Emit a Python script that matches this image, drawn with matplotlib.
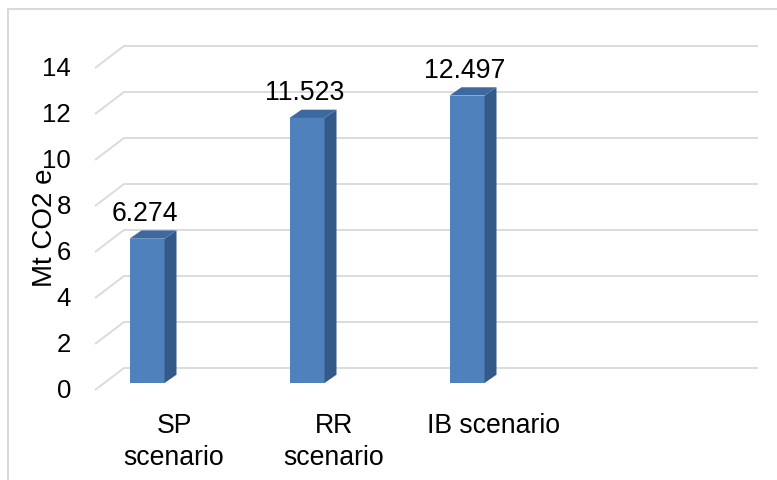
import matplotlib
matplotlib.use("Agg")
import matplotlib.pyplot as plt
from matplotlib.patches import Polygon
from matplotlib.lines import Line2D

plt.rcParams['font.family'] = ['Liberation Sans', 'DejaVu Sans']

# ---- data ----
categories = ["SP\nscenario", "RR\nscenario", "IB scenario"]
values = [6.274, 11.523, 12.497]
value_labels = ["6.274", "11.523", "12.497"]
yticks = [0, 2, 4, 6, 8, 10, 12, 14]
ylabel = "Mt CO2 e"

# ---- style / layout ----
W, H = 777, 481
FS = 18.5
FS2 = 19.2
front_c = '#4f81bd'
side_c = '#345a8a'
top_c = '#3d69a0'
grid_c = '#d9d9d9'
PX_X = 160.0   # pixels per category
PX_Y = 23.0    # pixels per unit
X0, Y0 = 147.0, 384.0  # pixel position of category 0 / value 0 (from top)

fig = plt.figure(figsize=(W / 100, H / 100), dpi=100)
ax = fig.add_axes([0, 0, 1, 1])
ax.set_xlim((0 - X0) / PX_X, (W - X0) / PX_X)
ax.set_ylim((Y0 - H) / PX_Y, Y0 / PX_Y)
ax.axis('off')

def dx(p):
    return p / PX_X

def dy(p):
    return p / PX_Y

# back wall gridlines + floor-side diagonals
x_back_left = dx(124 - X0)
x_front_left = dx(95 - X0)
x_right = dx(758 - X0)
for t in yticks:
    yb = t + dy(15)
    yf = t - dy(7)
    ax.plot([x_front_left, x_back_left, x_right], [yf, yb, yb],
            color=grid_c, lw=1.3, solid_capstyle='butt', zorder=1)
    ax.text(dx(71 - X0), yf, str(t), ha='right', va='center',
            fontsize=FS, color='black', zorder=3)

# bars (front faces) + 3D side and top faces
bw = dx(35)
ddx, ddy = dx(12), dy(8.3)
xs = list(range(len(values)))
ax.bar(xs, values, width=bw, color=front_c, zorder=4, linewidth=0)
for x, v in zip(xs, values):
    xr = x + bw / 2
    xl = x - bw / 2
    side = Polygon([(xr, 0), (xr, v), (xr + ddx, v + ddy), (xr + ddx, ddy)],
                   closed=True, facecolor=side_c, edgecolor='none', zorder=4)
    top = Polygon([(xl, v), (xr, v), (xr + ddx, v + ddy), (xl + ddx, v + ddy)],
                  closed=True, facecolor=top_c, edgecolor='none', zorder=4)
    ax.add_patch(side)
    ax.add_patch(top)

# data labels
for x, v, lab in zip(xs, values, value_labels):
    ax.text(x - dx(2), v + dy(26), lab, ha='center', va='center',
            fontsize=FS2, color='black', zorder=5)

# category labels
for x, c in zip(xs, categories):
    ax.text(x + dx(27), dy(Y0 - 413), c, ha='center', va='top',
            fontsize=FS2, color='black', linespacing=1.3, zorder=5)

# y axis title
ax.text(dx(45 - X0), dy(Y0 - 228), ylabel, rotation=90, ha='center',
        va='center', fontsize=20, color='black', zorder=5)

# chart frame (left and top edges visible)
fig.add_artist(Line2D([8 / W, 8 / W, 1.0], [0, 1 - 10 / H, 1 - 10 / H],
                      transform=fig.transFigure, color=grid_c, lw=1.5))

fig.savefig('out.png', dpi=100)
